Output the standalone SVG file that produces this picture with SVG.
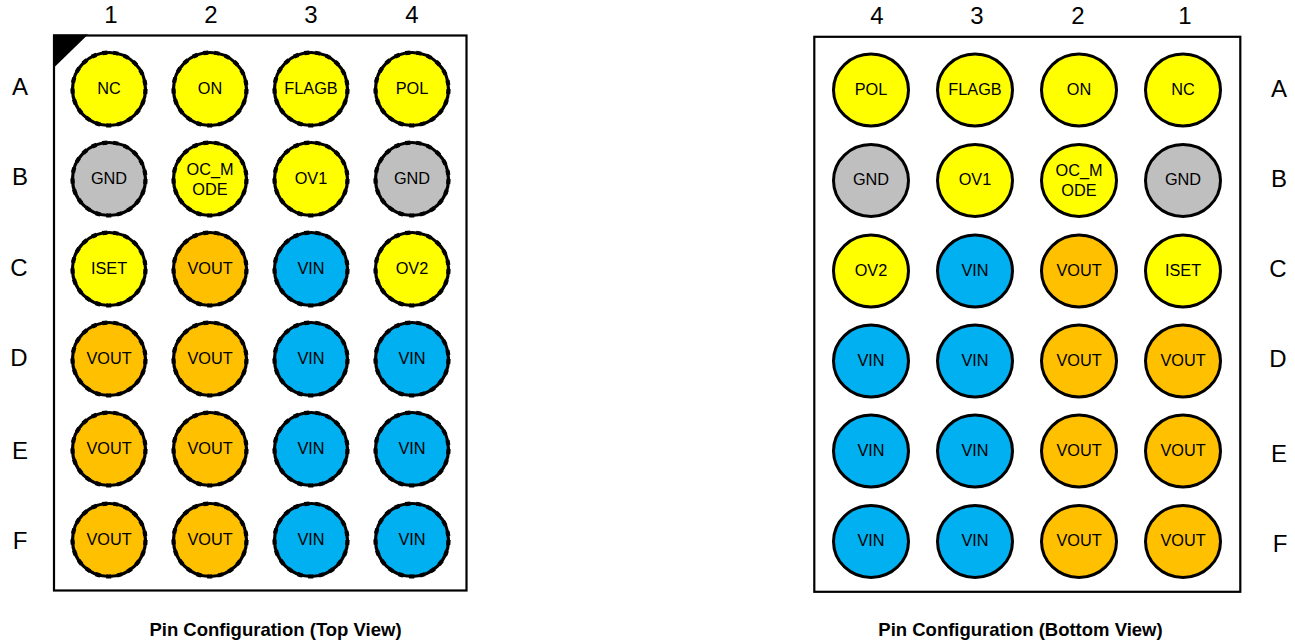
<svg xmlns="http://www.w3.org/2000/svg" width="1295" height="643" viewBox="0 0 1295 643">
<style>
text{font-family:"Liberation Sans",Arial,sans-serif;fill:#000;text-anchor:middle}
.h{font-size:24px}.p{font-size:16.3px}.t{font-size:18.5px;font-weight:bold}
.box{fill:none;stroke:#000;stroke-width:2.2}
.l,.r{stroke:#000}
.l{stroke-width:3.2}
.r{stroke-width:3}
.y{fill:#ffff00}.g{fill:#bfbfbf}.o{fill:#ffc000}.b{fill:#00b0f0}
.d{fill:none;stroke:#000;stroke-width:4.2;stroke-dasharray:5 6}
</style>
<defs>
<circle id="bump" class="d" r="36.5"/>
</defs>
<g id="top-frame"><rect class="box" x="54" y="35.5" width="412.5" height="555"/><path d="M53 34.5H88L53 68.5Z"/></g>
<g id="top-labels">
<text class="h" x="111" y="23">1</text><text class="h" x="211" y="23">2</text><text class="h" x="311" y="23">3</text><text class="h" x="412" y="23">4</text>
<text class="h" x="20" y="95">A</text><text class="h" x="20" y="185">B</text><text class="h" x="19" y="276">C</text><text class="h" x="19" y="366">D</text><text class="h" x="20" y="459">E</text><text class="h" x="20" y="549">F</text>
<text class="t" x="275.5" y="636">Pin Configuration (Top View)</text>
</g>
<g id="t-A1"><circle class="l y" cx="109" cy="89" r="36.5"/><use href="#bump" x="109" y="89"/><text class="p" x="109" y="94">NC</text></g>
<g id="t-A2"><circle class="l y" cx="210" cy="89" r="36.5"/><use href="#bump" x="210" y="89"/><text class="p" x="210" y="94">ON</text></g>
<g id="t-A3"><circle class="l y" cx="311" cy="89" r="36.5"/><use href="#bump" x="311" y="89"/><text class="p" x="311" y="94">FLAGB</text></g>
<g id="t-A4"><circle class="l y" cx="412" cy="89" r="36.5"/><use href="#bump" x="412" y="89"/><text class="p" x="412" y="94">POL</text></g>
<g id="t-B1"><circle class="l g" cx="109" cy="179" r="36.5"/><use href="#bump" x="109" y="179"/><text class="p" x="109" y="184">GND</text></g>
<g id="t-B2"><circle class="l y" cx="210" cy="179" r="36.5"/><use href="#bump" x="210" y="179"/><text class="p" x="210" y="175">OC_M</text><text class="p" x="210" y="195">ODE</text></g>
<g id="t-B3"><circle class="l y" cx="311" cy="179" r="36.5"/><use href="#bump" x="311" y="179"/><text class="p" x="311" y="184">OV1</text></g>
<g id="t-B4"><circle class="l g" cx="412" cy="179" r="36.5"/><use href="#bump" x="412" y="179"/><text class="p" x="412" y="184">GND</text></g>
<g id="t-C1"><circle class="l y" cx="109" cy="269" r="36.5"/><use href="#bump" x="109" y="269"/><text class="p" x="109" y="274">ISET</text></g>
<g id="t-C2"><circle class="l o" cx="210" cy="269" r="36.5"/><use href="#bump" x="210" y="269"/><text class="p" x="210" y="274">VOUT</text></g>
<g id="t-C3"><circle class="l b" cx="311" cy="269" r="36.5"/><use href="#bump" x="311" y="269"/><text class="p" x="311" y="274">VIN</text></g>
<g id="t-C4"><circle class="l y" cx="412" cy="269" r="36.5"/><use href="#bump" x="412" y="269"/><text class="p" x="412" y="274">OV2</text></g>
<g id="t-D1"><circle class="l o" cx="109" cy="359" r="36.5"/><use href="#bump" x="109" y="359"/><text class="p" x="109" y="364">VOUT</text></g>
<g id="t-D2"><circle class="l o" cx="210" cy="359" r="36.5"/><use href="#bump" x="210" y="359"/><text class="p" x="210" y="364">VOUT</text></g>
<g id="t-D3"><circle class="l b" cx="311" cy="359" r="36.5"/><use href="#bump" x="311" y="359"/><text class="p" x="311" y="364">VIN</text></g>
<g id="t-D4"><circle class="l b" cx="412" cy="359" r="36.5"/><use href="#bump" x="412" y="359"/><text class="p" x="412" y="364">VIN</text></g>
<g id="t-E1"><circle class="l o" cx="109" cy="449" r="36.5"/><use href="#bump" x="109" y="449"/><text class="p" x="109" y="454">VOUT</text></g>
<g id="t-E2"><circle class="l o" cx="210" cy="449" r="36.5"/><use href="#bump" x="210" y="449"/><text class="p" x="210" y="454">VOUT</text></g>
<g id="t-E3"><circle class="l b" cx="311" cy="449" r="36.5"/><use href="#bump" x="311" y="449"/><text class="p" x="311" y="454">VIN</text></g>
<g id="t-E4"><circle class="l b" cx="412" cy="449" r="36.5"/><use href="#bump" x="412" y="449"/><text class="p" x="412" y="454">VIN</text></g>
<g id="t-F1"><circle class="l o" cx="109" cy="540" r="36.5"/><use href="#bump" x="109" y="540"/><text class="p" x="109" y="545">VOUT</text></g>
<g id="t-F2"><circle class="l o" cx="210" cy="540" r="36.5"/><use href="#bump" x="210" y="540"/><text class="p" x="210" y="545">VOUT</text></g>
<g id="t-F3"><circle class="l b" cx="311" cy="540" r="36.5"/><use href="#bump" x="311" y="540"/><text class="p" x="311" y="545">VIN</text></g>
<g id="t-F4"><circle class="l b" cx="412" cy="540" r="36.5"/><use href="#bump" x="412" y="540"/><text class="p" x="412" y="545">VIN</text></g>

<g id="bottom-frame"><rect class="box" x="814.3" y="36.8" width="426" height="555"/></g>
<g id="bottom-labels">
<text class="h" x="877" y="24">4</text><text class="h" x="977" y="24">3</text><text class="h" x="1078" y="24">2</text><text class="h" x="1185" y="24">1</text>
<text class="h" x="1279" y="97">A</text><text class="h" x="1279" y="187">B</text><text class="h" x="1278" y="277">C</text><text class="h" x="1278" y="367">D</text><text class="h" x="1279" y="462">E</text><text class="h" x="1280" y="552">F</text>
<text class="t" x="1020.5" y="636">Pin Configuration (Bottom View)</text>
</g>
<g id="b-A4"><ellipse class="r y" cx="871" cy="90" rx="37.5" ry="36"/><text class="p" x="871" y="95">POL</text></g>
<g id="b-A3"><ellipse class="r y" cx="975" cy="90" rx="37.5" ry="36"/><text class="p" x="975" y="95">FLAGB</text></g>
<g id="b-A2"><ellipse class="r y" cx="1079" cy="90" rx="37.5" ry="36"/><text class="p" x="1079" y="95">ON</text></g>
<g id="b-A1"><ellipse class="r y" cx="1183" cy="90" rx="37.5" ry="36"/><text class="p" x="1183" y="95">NC</text></g>
<g id="b-B4"><ellipse class="r g" cx="871" cy="180.5" rx="37.5" ry="36"/><text class="p" x="871" y="185">GND</text></g>
<g id="b-B3"><ellipse class="r y" cx="975" cy="180.5" rx="37.5" ry="36"/><text class="p" x="975" y="185">OV1</text></g>
<g id="b-B2"><ellipse class="r y" cx="1079" cy="180.5" rx="37.5" ry="36"/><text class="p" x="1079" y="176">OC_M</text><text class="p" x="1079" y="196">ODE</text></g>
<g id="b-B1"><ellipse class="r g" cx="1183" cy="180.5" rx="37.5" ry="36"/><text class="p" x="1183" y="185">GND</text></g>
<g id="b-C4"><ellipse class="r y" cx="871" cy="271" rx="37.5" ry="36"/><text class="p" x="871" y="276">OV2</text></g>
<g id="b-C3"><ellipse class="r b" cx="975" cy="271" rx="37.5" ry="36"/><text class="p" x="975" y="276">VIN</text></g>
<g id="b-C2"><ellipse class="r o" cx="1079" cy="271" rx="37.5" ry="36"/><text class="p" x="1079" y="276">VOUT</text></g>
<g id="b-C1"><ellipse class="r y" cx="1183" cy="271" rx="37.5" ry="36"/><text class="p" x="1183" y="276">ISET</text></g>
<g id="b-D4"><ellipse class="r b" cx="871" cy="361" rx="37.5" ry="36"/><text class="p" x="871" y="366">VIN</text></g>
<g id="b-D3"><ellipse class="r b" cx="975" cy="361" rx="37.5" ry="36"/><text class="p" x="975" y="366">VIN</text></g>
<g id="b-D2"><ellipse class="r o" cx="1079" cy="361" rx="37.5" ry="36"/><text class="p" x="1079" y="366">VOUT</text></g>
<g id="b-D1"><ellipse class="r o" cx="1183" cy="361" rx="37.5" ry="36"/><text class="p" x="1183" y="366">VOUT</text></g>
<g id="b-E4"><ellipse class="r b" cx="871" cy="451" rx="37.5" ry="36"/><text class="p" x="871" y="456">VIN</text></g>
<g id="b-E3"><ellipse class="r b" cx="975" cy="451" rx="37.5" ry="36"/><text class="p" x="975" y="456">VIN</text></g>
<g id="b-E2"><ellipse class="r o" cx="1079" cy="451" rx="37.5" ry="36"/><text class="p" x="1079" y="456">VOUT</text></g>
<g id="b-E1"><ellipse class="r o" cx="1183" cy="451" rx="37.5" ry="36"/><text class="p" x="1183" y="456">VOUT</text></g>
<g id="b-F4"><ellipse class="r b" cx="871" cy="541.5" rx="37.5" ry="36"/><text class="p" x="871" y="546">VIN</text></g>
<g id="b-F3"><ellipse class="r b" cx="975" cy="541.5" rx="37.5" ry="36"/><text class="p" x="975" y="546">VIN</text></g>
<g id="b-F2"><ellipse class="r o" cx="1079" cy="541.5" rx="37.5" ry="36"/><text class="p" x="1079" y="546">VOUT</text></g>
<g id="b-F1"><ellipse class="r o" cx="1183" cy="541.5" rx="37.5" ry="36"/><text class="p" x="1183" y="546">VOUT</text></g>
<g id="connectors"/>
</svg>
